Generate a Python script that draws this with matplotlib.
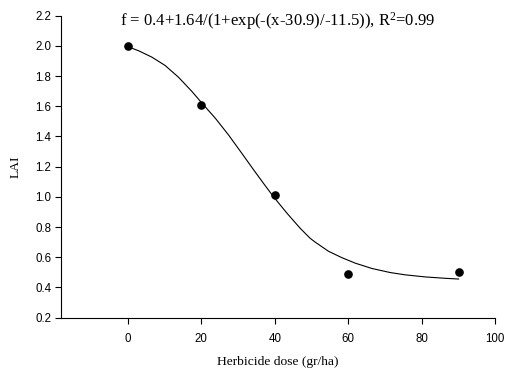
import matplotlib
matplotlib.use("Agg")
import matplotlib.pyplot as plt

# Observed data
dose = [0, 20, 40, 60, 90]
lai = [2.00, 1.607, 1.013, 0.489, 0.503]

# Fitted curve
curve_x = [0, 2.9, 6.5, 10.1, 13.8, 17.4, 19.7, 21.0, 23.8, 27.4, 31.0,
           34.2, 36.9, 39.6, 43.3, 46.9, 49.6, 51.0, 54.6, 58.2, 61.9,
           66.4, 71.4, 75.4, 80.9, 86.3, 90]
curve_y = [1.995, 1.968, 1.926, 1.871, 1.792, 1.699, 1.634, 1.598, 1.521,
           1.410, 1.289, 1.180, 1.090, 1.002, 0.892, 0.792, 0.726, 0.700,
           0.640, 0.598, 0.561, 0.526, 0.499, 0.484, 0.470, 0.461, 0.456]

x_ticks = [0, 20, 40, 60, 80, 100]
y_ticks = [0.2, 0.4, 0.6, 0.8, 1.0, 1.2, 1.4, 1.6, 1.8, 2.0, 2.2]

plt.rcParams['mathtext.fontset'] = 'custom'
plt.rcParams['mathtext.rm'] = 'Liberation Serif'
plt.rcParams['mathtext.it'] = 'Liberation Serif:italic'

fig = plt.figure(figsize=(5.05, 3.72), dpi=100)
ax = fig.add_axes([0.1208, 0.146, 0.9808 - 0.1208, 0.9578 - 0.146])

ax.plot(curve_x, curve_y, color='black', linewidth=0.8)
ax.plot(dose, lai, 'o', color='black', markersize=5.2)

ax.set_xlim(-18.2, 100)
ax.set_ylim(0.2, 2.2)
ax.set_xticks(x_ticks)
ax.set_yticks(y_ticks)
ax.set_xticklabels([str(t) for t in x_ticks], family='Liberation Sans', fontsize=8.3)
ax.set_yticklabels([f"{t:.1f}" for t in y_ticks], family='Liberation Sans', fontsize=8.3)
ax.tick_params(direction='out', length=4, width=0.8, pad=7, axis='x')
ax.tick_params(direction='out', length=4, width=0.8, pad=3, axis='y')

for s in ['top', 'right']:
    ax.spines[s].set_visible(False)
for s in ['left', 'bottom']:
    ax.spines[s].set_linewidth(0.8)

ax.set_xlabel('Herbicide dose (gr/ha)', family='Liberation Serif', fontsize=9.7, labelpad=8)
ax.set_ylabel('LAI', family='Liberation Serif', fontsize=9.7, labelpad=10)

fig.text(0.2376, 0.943, r'f = 0.4+1.64/(1+exp(-(x-30.9)/-11.5)), R$^{2}$=0.99',
         family='Liberation Serif', fontsize=12, va='center', ha='left')

fig.savefig('out.png', dpi=100)
